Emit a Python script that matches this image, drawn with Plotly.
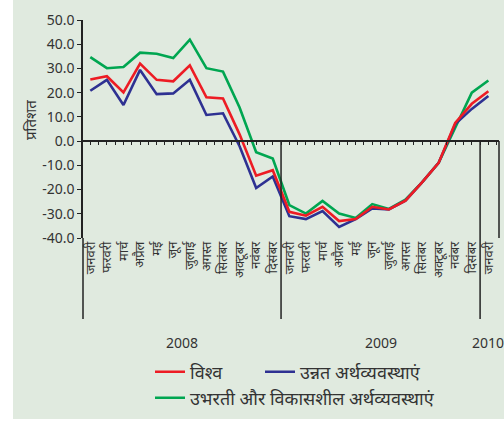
import plotly.graph_objects as go

# ---------------- data ----------------
months = ["जनवरी", "फरवरी", "मार्च", "अप्रैल", "मई", "जून", "जुलाई",
          "अगस्त", "सितंबर", "अक्टूबर", "नवंबर", "दिसंबर"]
year_names = ["2008", "2009", "2010"]
months_per_year = [12, 12, 1]
month_labels = months + months + months[:1]

world = [25.4, 26.8, 20.1, 32.0, 25.3, 24.7, 31.3, 18.1, 17.6, 2.8, -14.3, -12.0,
         -29.2, -30.8, -27.1, -33.0, -32.2, -27.1, -28.2, -24.6, -17.0, -9.0, 7.5, 15.4,
         20.6]
advanced = [20.8, 25.3, 14.9, 29.4, 19.4, 19.7, 25.3, 10.8, 11.5, -2.1, -19.4, -14.6,
            -31.0, -32.2, -28.9, -35.4, -32.2, -27.8, -28.2, -24.6, -17.0, -9.0, 7.0, 13.3,
            18.6]
emerging = [34.7, 30.1, 30.6, 36.5, 36.1, 34.3, 41.9, 30.1, 28.7, 13.9, -4.6, -7.2,
            -26.4, -29.9, -24.7, -29.9, -31.7, -26.0, -28.0, -24.2, -17.0, -9.0, 5.5, 20.0,
            25.0]

series_names = ["विश्व", "उन्नत अर्थव्यवस्थाएं", "उभरती और विकासशील अर्थव्यवस्थाएं"]
y_title = "प्रतिशत"
y_ticks = [-40, -30, -20, -10, 0, 10, 20, 30, 40, 50]
y_ticktext = [f"{v:.1f}" for v in y_ticks]

# ---------------- layout helpers ----------------
W, H = 504, 421
ML, MR, MT, MB = 83, 5, 20, 183
PW, PH = W - ML - MR, H - MT - MB

def px_x(px):
    return (px - ML) / PW

def px_y(py):
    return (H - MB - py) / PH

x = list(range(len(month_labels)))
xrange_ = [-0.44, len(month_labels) - 0.36]
yrange_ = [-40, 50]
zero_pos = (0 - yrange_[0]) / (yrange_[1] - yrange_[0])

# year centers and boundaries
year_centers, boundaries = [], []
start = 0
for n in months_per_year:
    year_centers.append(start + (n - 1) / 2)
    start += n
    boundaries.append(start - 0.5)
boundaries = boundaries[:-1]

BG = "#e0eadf"
AX = "#222222"
TXT = "#333333"
FONT = "Noto Sans, Open Sans, sans-serif"

fig = go.Figure()
colors = ["#00a651", "#2e3192", "#ed1c24"]
legends = ["legend3", "legend2", "legend"]
for ys, name, c, lg in zip([emerging, advanced, world], series_names[::-1], colors, legends):
    fig.add_trace(go.Scatter(x=x, y=ys, mode="lines", name=name,
                             line=dict(color=c, width=2.6), legend=lg))

# dummy trace for the zero-line axis
fig.add_trace(go.Scatter(x=[], y=[], xaxis="x2", showlegend=False, hoverinfo="skip"))

shapes = [
    # white strip left and bottom
    dict(type="rect", xref="paper", yref="paper", x0=px_x(-5), x1=px_x(13),
         y0=px_y(430), y1=px_y(-5), fillcolor="white", line=dict(width=0), layer="below"),
    dict(type="rect", xref="paper", yref="paper", x0=px_x(-5), x1=px_x(510),
         y0=px_y(430), y1=px_y(419), fillcolor="white", line=dict(width=0), layer="below"),
    # y axis extension down through labels
    dict(type="line", xref="paper", yref="paper", x0=0, x1=0, y0=0, y1=px_y(319),
         line=dict(color=AX, width=1.5)),
    # right border (zero line down to bottom)
    dict(type="line", xref="paper", yref="paper", x0=1, x1=1, y0=zero_pos, y1=0,
         line=dict(color=AX, width=1.5)),
]
for b in boundaries:
    shapes.append(dict(type="line", xref="x", yref="paper", x0=b, x1=b,
                       y0=zero_pos, y1=px_y(319), line=dict(color=AX, width=1.5)))

annotations = [
    dict(text=y_title, xref="paper", yref="paper", x=px_x(30), y=px_y(120),
         showarrow=False, textangle=-90, font=dict(size=15, color=TXT, family=FONT),
         xanchor="center", yanchor="middle"),
]
for yc, yn in zip(year_centers, year_names):
    annotations.append(dict(text=yn, xref="x", yref="paper", x=yc, y=px_y(342),
                            showarrow=False, font=dict(size=14, color=TXT, family=FONT),
                            xanchor="center", yanchor="middle"))

leg_common = dict(orientation="h", bgcolor="rgba(0,0,0,0)", xanchor="left", yanchor="middle",
                  font=dict(size=18, color=TXT, family=FONT))

fig.update_layout(
    width=W, height=H,
    margin=dict(l=ML, r=MR, t=MT, b=MB, autoexpand=False),
    paper_bgcolor=BG, plot_bgcolor=BG,
    font=dict(family=FONT, color=TXT),
    xaxis=dict(range=xrange_, tickvals=x, ticktext=month_labels, tickangle=-90,
               ticks="", showline=False, showgrid=False, zeroline=False,
               tickfont=dict(size=13, color=TXT, family=FONT)),
    xaxis2=dict(range=xrange_, overlaying="x", anchor="free", position=zero_pos,
                side="bottom", showticklabels=False, ticks="outside", ticklen=3,
                tickwidth=1, tickcolor=AX, tick0=0, dtick=0.5, showline=True,
                linecolor=AX, linewidth=1.5, showgrid=False, zeroline=False),
    yaxis=dict(range=yrange_, tickvals=y_ticks, ticktext=y_ticktext, ticks="outside",
               ticklen=4, tickcolor=AX, showline=True, linecolor=AX, linewidth=1.5,
               showgrid=False, zeroline=False,
               tickfont=dict(size=14, color=TXT, family=FONT)),
    shapes=shapes,
    annotations=annotations,
    legend=dict(x=px_x(150), y=px_y(372), **leg_common),
    legend2=dict(x=px_x(260), y=px_y(372), **leg_common),
    legend3=dict(x=px_x(150), y=px_y(398), **leg_common),
    showlegend=True,
)

fig.write_html(
    "out.html",
    config={"displayModeBar": False},
    post_script="document.body.style.margin='0';document.body.style.overflow='hidden';",
)
